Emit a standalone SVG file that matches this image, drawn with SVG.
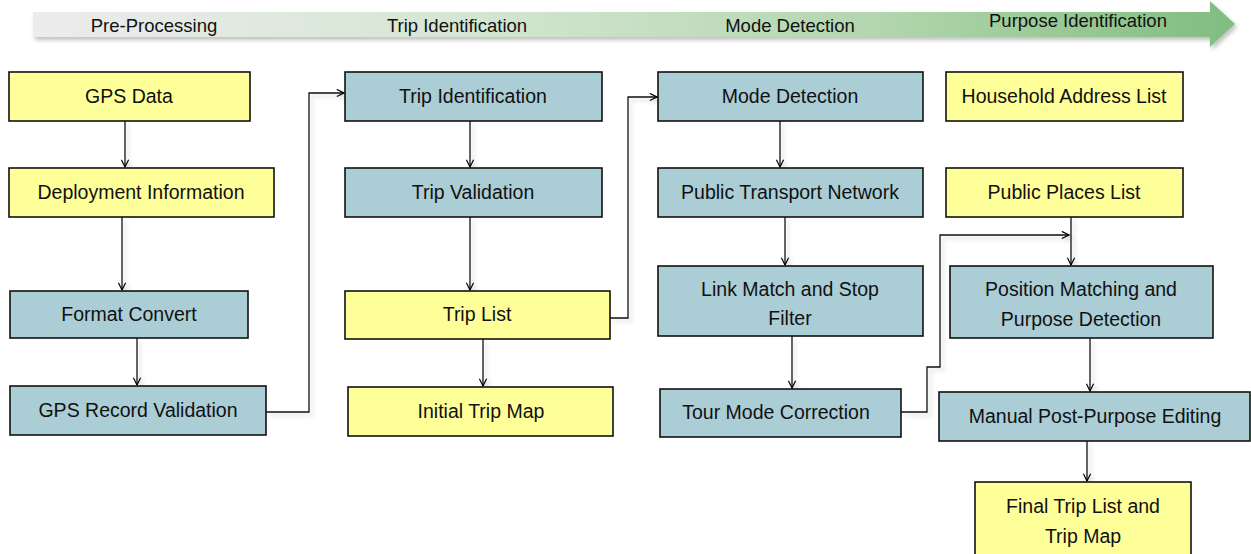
<svg xmlns="http://www.w3.org/2000/svg" width="1251" height="554" viewBox="0 0 1251 554">
<defs>
<linearGradient id="band" x1="33" y1="0" x2="1236" y2="0" gradientUnits="userSpaceOnUse">
<stop offset="0" stop-color="#ececec"/>
<stop offset="0.35" stop-color="#d6e6d4"/>
<stop offset="0.7" stop-color="#b3d6ae"/>
<stop offset="1" stop-color="#80bd80"/>
</linearGradient>
<filter id="sh" x="-5%" y="-20%" width="110%" height="160%">
<feDropShadow dx="2" dy="3" stdDeviation="2" flood-color="#000" flood-opacity="0.25"/>
</filter>
<filter id="lsh" x="-20%" y="-20%" width="140%" height="140%">
<feDropShadow dx="3" dy="3" stdDeviation="2" flood-color="#000" flood-opacity="0.18"/>
</filter>
<marker id="ah" viewBox="0 0 10 10" refX="9" refY="5" markerWidth="9" markerHeight="9" markerUnits="userSpaceOnUse" orient="auto">
<path d="M1,1 L9,5 L1,9" fill="none" stroke="#000" stroke-width="1.3"/>
</marker>
</defs>
<style>
.y{fill:#ffff99;stroke:#111;stroke-width:1.6}
.b{fill:#abcdd5;stroke:#111;stroke-width:1.6}
text{font-family:"Liberation Sans",Arial,sans-serif;font-size:19.5px;fill:#111;text-anchor:middle}
.h{font-size:18.5px}
.c{fill:none;stroke:#111;stroke-width:1.3}
</style>
<rect width="1251" height="554" fill="#fff"/>
<g id="stages">
<polygon points="33,12 1210,12 1210,1 1235,24 1210,47 1210,37 33,37" fill="url(#band)" filter="url(#sh)"/>
<text class="h" x="154" y="32">Pre-Processing</text>
<text class="h" x="457" y="32">Trip Identification</text>
<text class="h" x="790" y="32">Mode Detection</text>
<text class="h" x="1078" y="27">Purpose Identification</text>
</g>
<g id="connectors" filter="url(#lsh)">
<path class="c" d="M125,121 V167" marker-end="url(#ah)"/>
<path class="c" d="M122,217 V290" marker-end="url(#ah)"/>
<path class="c" d="M137,338 V385" marker-end="url(#ah)"/>
<path class="c" d="M266,412 H309 V93 H344" marker-end="url(#ah)"/>
<path class="c" d="M470,121 V167" marker-end="url(#ah)"/>
<path class="c" d="M470,217 V290" marker-end="url(#ah)"/>
<path class="c" d="M483,339 V386" marker-end="url(#ah)"/>
<path class="c" d="M610,318 H628 V97 H657" marker-end="url(#ah)"/>
<path class="c" d="M780,121 V167" marker-end="url(#ah)"/>
<path class="c" d="M785,217 V265" marker-end="url(#ah)"/>
<path class="c" d="M792,336 V388" marker-end="url(#ah)"/>
<path class="c" d="M901,412 H927 V367 H940 V235 H1069" marker-end="url(#ah)"/>
<path class="c" d="M1071,217 V265" marker-end="url(#ah)"/>
<path class="c" d="M1090,338 V391" marker-end="url(#ah)"/>
<path class="c" d="M1087,441 V481" marker-end="url(#ah)"/>
</g>
<g id="gps-data"><rect class="y" x="9" y="72" width="241" height="49"/><text x="129" y="103">GPS Data</text></g>
<g id="deployment-information"><rect class="y" x="9" y="168" width="265" height="49"/><text x="141" y="199">Deployment Information</text></g>
<g id="format-convert"><rect class="b" x="10" y="291" width="238" height="47"/><text x="129" y="321">Format Convert</text></g>
<g id="gps-record-validation"><rect class="b" x="10" y="386" width="256" height="49"/><text x="138" y="417">GPS Record Validation</text></g>
<g id="trip-identification"><rect class="b" x="345" y="72" width="257" height="49"/><text x="473" y="103">Trip Identification</text></g>
<g id="trip-validation"><rect class="b" x="345" y="168" width="257" height="49"/><text x="473" y="199">Trip Validation</text></g>
<g id="trip-list"><rect class="y" x="345" y="291" width="265" height="48"/><text x="477" y="321">Trip List</text></g>
<g id="initial-trip-map"><rect class="y" x="348" y="387" width="265" height="49"/><text x="481" y="418">Initial Trip Map</text></g>
<g id="mode-detection"><rect class="b" x="658" y="72" width="265" height="49"/><text x="790" y="103">Mode Detection</text></g>
<g id="public-transport-network"><rect class="b" x="658" y="168" width="265" height="49"/><text x="790" y="199">Public Transport Network</text></g>
<g id="link-match"><rect class="b" x="658" y="266" width="265" height="70"/><text x="790" y="296">Link Match and Stop</text><text x="790" y="325">Filter</text></g>
<g id="tour-mode-correction"><rect class="b" x="660" y="389" width="241" height="48"/><text x="776" y="419">Tour Mode Correction</text></g>
<g id="household-address-list"><rect class="y" x="946" y="72" width="237" height="49"/><text x="1064" y="103">Household Address List</text></g>
<g id="public-places-list"><rect class="y" x="946" y="168" width="237" height="49"/><text x="1064" y="199">Public Places List</text></g>
<g id="position-matching"><rect class="b" x="950" y="266" width="263" height="72"/><text x="1081" y="296">Position Matching and</text><text x="1081" y="326">Purpose Detection</text></g>
<g id="manual-editing"><rect class="b" x="939" y="392" width="311" height="49"/><text x="1095" y="423">Manual Post-Purpose Editing</text></g>
<g id="final-trip-list"><rect class="y" x="975" y="482" width="216" height="75"/><text x="1083" y="513">Final Trip List and</text><text x="1083" y="543">Trip Map</text></g>
</svg>
